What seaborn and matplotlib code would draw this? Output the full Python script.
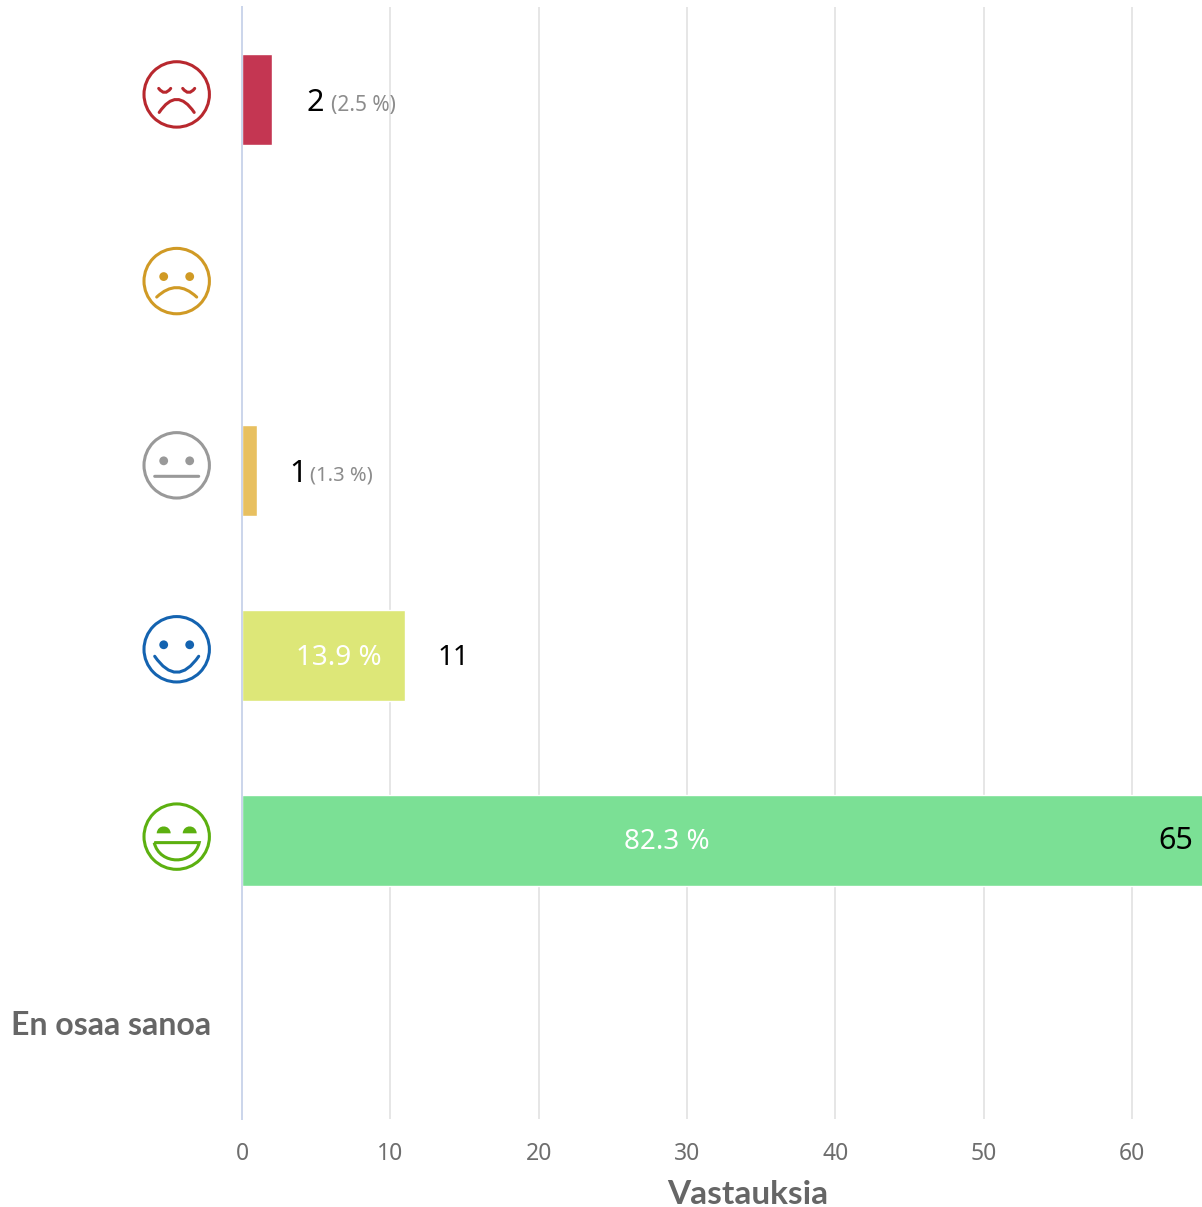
import numpy as np
import pandas as pd
import matplotlib
matplotlib.use('Agg')
import matplotlib.pyplot as plt
import seaborn as sns
from matplotlib.patches import Circle, PathPatch
from matplotlib.path import Path
from matplotlib.transforms import Affine2D

categories = ['very_bad', 'bad', 'neutral', 'good', 'very_good', 'En osaa sanoa']
counts = [2, 0, 1, 11, 65, 0]
percents = ['2.5 %', '', '1.3 %', '13.9 %', '82.3 %', '']
bar_colors = ['#c43652', '#d09a25', '#e8c060', '#dde778', '#7be095', '#999999']
face_colors = ['#b8282e', '#d09a25', '#999999', '#1463b0', '#5cb010']
x_ticks = [0, 10, 20, 30, 40, 50, 60]

W, H = 1202, 1207
LEFT, RIGHT, TOP, BOTTOM = 242, 1206, 7, 1118.5
FONT = 'Noto Sans'
BOLD = 'Lato'

sns.set_theme(style='white')
plt.rcParams['font.family'] = [FONT, 'DejaVu Sans']

fig = plt.figure(figsize=(W / 100, H / 100), dpi=100)
ax = fig.add_axes([LEFT / W, 1 - BOTTOM / H, (RIGHT - LEFT) / W, (BOTTOM - TOP) / H])

df = pd.DataFrame({'category': categories, 'count': counts})
sns.barplot(data=df, x='count', y='category', hue='category', order=categories,
            palette=dict(zip(categories, bar_colors)), width=0.49, saturation=1,
            legend=False, ax=ax)

ax.set_xlim(0, 65)
ax.set_ylim(5.5, -0.5)
ax.set_axisbelow(True)
ax.xaxis.grid(True, color='#e6e6e6', linewidth=1.44)
ax.yaxis.grid(False)
sns.despine(ax=ax, top=True, right=True, bottom=True, left=False)
ax.spines['left'].set_color('#ccd6eb')
ax.spines['left'].set_linewidth(1.44)

ax.set_xticks(x_ticks)
ax.tick_params(axis='x', length=0, pad=17, labelsize=16.5, labelcolor='#6e6e6e')
ax.tick_params(axis='y', length=0, pad=22)
ax.set_yticks(range(len(categories)))
ax.set_yticklabels(['', '', '', '', '', categories[5]], fontsize=23, family=BOLD, fontweight='bold', color='#666666')
label = ax.get_yticklabels()[5]
label.set_transform(label.get_transform() + Affine2D().translate(0, 3))

ax.set_xlabel('Vastauksia', fontsize=24, family=BOLD, fontweight='bold', color='#666666')
ax.set_ylabel('')
ax.xaxis.set_label_coords((748 - LEFT) / (RIGHT - LEFT), -(1194 - BOTTOM) / (BOTTOM - TOP))
ax.xaxis.label.set_verticalalignment('center')


def px_text(i, x_val, dx, txt, size, color, ha='left', dy=-10):
    # offsets are in image pixels from the bar end, baseline below the bar centre
    ax.annotate(txt, xy=(x_val, i), xytext=(dx, dy), textcoords='offset pixels',
                ha=ha, va='baseline', fontsize=size, color=color, annotation_clip=False)


px_text(0, counts[0], 35, str(counts[0]), 22, 'black', dy=-11)
px_text(0, counts[0], 59, '(' + percents[0] + ')', 15, '#8c8c8c', dy=-11)
px_text(2, counts[2], 32, str(counts[2]), 22, 'black', dy=-12)
px_text(2, counts[2], 53, '(' + percents[2] + ')', 14.5, '#8c8c8c', dy=-10)
px_text(3, counts[3], 32, str(counts[3]), 20, 'black')
px_text(3, counts[3], -24, percents[3], 20, 'white', ha='right')
px_text(4, counts[4], -13, str(counts[4]), 22, 'black', ha='right', dy=-8)
px_text(4, 0, 425, percents[4], 20, 'white', ha='center', dy=-8)

face_shift = [5.2, 3.8, 4.8, 6.1, 4.0]


def curve(x0, x1, y_end, y_mid):
    # quadratic arc through the mid height
    ctrl = 2 * y_mid - y_end
    return Path([(x0, y_end), ((x0 + x1) / 2, ctrl), (x1, y_end)],
                [Path.MOVETO, Path.CURVE3, Path.CURVE3])


def draw_face(i, color):
    # face is drawn in pixels around its centre, y pointing down
    yc = ax.transData.transform((0, i))[1] + face_shift[i]
    tr = Affine2D().scale(1, -1).translate(176.7, yc)
    lw = 2.2
    parts = [Circle((0, 0), 32.7, fill=False, ec=color, lw=lw)]
    line = dict(fill=False, ec=color, lw=lw, capstyle='round')
    if i == 0:
        parts += [PathPatch(curve(-18, -6, -6, -2), **line), PathPatch(curve(6, 18, -6, -2), **line),
                  PathPatch(curve(-17.5, 17.5, 18, 5), **line)]
    if i in (1, 2, 3):
        parts += [Circle((-13, -4.5), 4.4, fc=color, ec='none'), Circle((13, -4.5), 4.4, fc=color, ec='none')]
    if i == 1:
        parts.append(PathPatch(curve(-20, 20, 16, 6.5), **line))
    if i == 2:
        parts.append(PathPatch(curve(-22, 22, 11, 11), **line))
    if i == 3:
        parts.append(PathPatch(curve(-22, 22, 7, 23), **line))
    if i == 4:
        for s in (-1, 1):
            dome = Path([(s * 6, -3.3), (s * 6.5, -12.5), (s * 19.5, -12.5), (s * 20, -3.3), (s * 6, -3.3)],
                        [Path.MOVETO, Path.CURVE4, Path.CURVE4, Path.CURVE4, Path.CLOSEPOLY])
            parts.append(PathPatch(dome, fc=color, ec='none'))
        mouth = Path([(-22.5, 6), (22.5, 6), (17, 29), (-17, 29), (-22.5, 6)],
                     [Path.MOVETO, Path.LINETO, Path.CURVE4, Path.CURVE4, Path.CURVE4])
        parts.append(PathPatch(mouth, fill=False, ec=color, lw=lw, joinstyle='miter'))
    for p in parts:
        p.set_transform(tr)
        p.set_clip_on(False)
        fig.add_artist(p)


for i, c in enumerate(face_colors):
    draw_face(i, c)

fig.savefig('out.png', dpi=100)
